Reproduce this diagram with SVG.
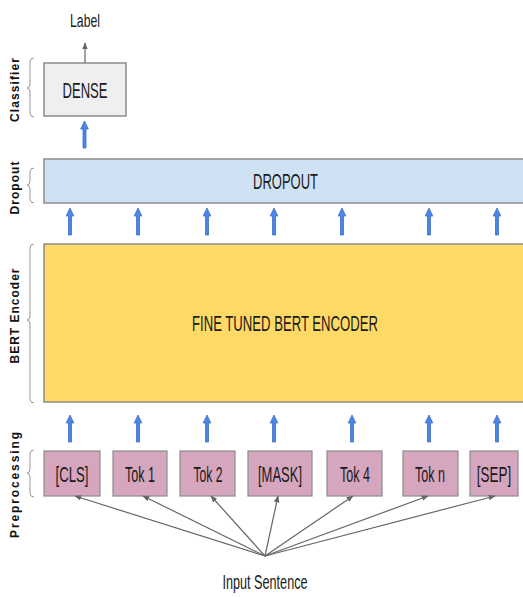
<svg xmlns="http://www.w3.org/2000/svg" width="523" height="597" viewBox="0 0 523 597">
<style>
.t{font-family:"Liberation Sans",Arial,sans-serif;font-size:22px;fill:#1a1a1a;text-anchor:middle}
.side{font-family:"Liberation Sans",Arial,sans-serif;font-size:12px;font-weight:bold;fill:#111;text-anchor:middle}
.box{stroke:#8c8c8c;stroke-width:1.5}
.tok{fill:#d5a6bd;stroke:#8c8c8c;stroke-width:1.2}
.brace{fill:none;stroke:#999;stroke-width:1}
.gl{stroke:#666;stroke-width:1.2;fill:none}
.ba{fill:#4a86e8;stroke:#3d6fc4;stroke-width:0.8}
</style>
<defs>
<marker id="ga" viewBox="0 0 10 10" refX="9" refY="5" markerWidth="7" markerHeight="7" orient="auto" markerUnits="userSpaceOnUse">
<path d="M0,1 L10,5 L0,9 z" fill="#666"/>
</marker>
<path id="bar" d="M-1.5,0 L-1.5,-19 L-3.8,-19 L0,-27 L3.8,-19 L1.5,-19 L1.5,0 z"/>
</defs>

<g id="side-labels">
<text class="side" transform="translate(19,90) rotate(-90)" textLength="64" lengthAdjust="spacing">Classifier</text>
<text class="side" transform="translate(19,188) rotate(-90)" textLength="53" lengthAdjust="spacing">Dropout</text>
<text class="side" transform="translate(19,316) rotate(-90)" textLength="95" lengthAdjust="spacing">BERT Encoder</text>
<text class="side" transform="translate(19,485) rotate(-90)" textLength="106" lengthAdjust="spacing">Preprocessing</text>
</g>

<g id="braces">
<path class="brace" d="M34,58 Q30,58 30,62 L30,84 Q30,88 27,88 Q30,88 30,92 L30,113 Q30,117 34,117"/>
<path class="brace" d="M34,168 Q30,168 30,172 L30,181 Q30,185 27,185 Q30,185 30,189 L30,199 Q30,203 34,203"/>
<path class="brace" d="M34,244 Q30,244 30,248 L30,316 Q30,320 27,320 Q30,320 30,324 L30,399 Q30,403 34,403"/>
<path class="brace" d="M34,450 Q30,450 30,454 L30,469 Q30,473 27,473 Q30,473 30,477 L30,493 Q30,497 34,497"/>
</g>

<g id="label">
<text class="t" x="85" y="27" style="font-size:18px" textLength="30" lengthAdjust="spacingAndGlyphs">Label</text>
</g>

<g id="dense">
<rect class="box" x="44" y="63" width="82" height="53" fill="#efefef"/>
<text class="t" x="85" y="98" textLength="45" lengthAdjust="spacingAndGlyphs">DENSE</text>
</g>

<g id="dropout">
<rect class="box" x="44" y="159" width="482" height="44" fill="#cfe2f3" stroke-width="2"/>
<text class="t" x="285.5" y="189" textLength="65" lengthAdjust="spacingAndGlyphs">DROPOUT</text>
</g>

<g id="bert">
<rect class="box" x="44" y="244" width="482" height="158" fill="#ffd966"/>
<text class="t" x="285" y="331" textLength="186" lengthAdjust="spacingAndGlyphs">FINE TUNED BERT ENCODER</text>
</g>

<g id="tok-cls">
<rect class="tok" x="44" y="451" width="56" height="45"/>
<text class="t" x="72" y="482" textLength="33" lengthAdjust="spacingAndGlyphs">[CLS]</text>
</g>
<g id="tok-1">
<rect class="tok" x="113" y="451" width="54" height="45"/>
<text class="t" x="140" y="482" textLength="30" lengthAdjust="spacingAndGlyphs">Tok 1</text>
</g>
<g id="tok-2">
<rect class="tok" x="180" y="451" width="55" height="45"/>
<text class="t" x="208" y="482" textLength="29" lengthAdjust="spacingAndGlyphs">Tok 2</text>
</g>
<g id="tok-mask">
<rect class="tok" x="248" y="451" width="64" height="45"/>
<text class="t" x="280" y="482" textLength="44" lengthAdjust="spacingAndGlyphs">[MASK]</text>
</g>
<g id="tok-4">
<rect class="tok" x="327" y="451" width="55" height="45"/>
<text class="t" x="355" y="482" textLength="30" lengthAdjust="spacingAndGlyphs">Tok 4</text>
</g>
<g id="tok-n">
<rect class="tok" x="403" y="451" width="55" height="45"/>
<text class="t" x="430" y="482" textLength="30" lengthAdjust="spacingAndGlyphs">Tok n</text>
</g>
<g id="tok-sep">
<rect class="tok" x="470" y="451" width="48" height="45"/>
<text class="t" transform="translate(494,482) scale(0.61,1)" x="0" y="0">[SEP]</text>
</g>

<g id="input">
<text class="t" x="265" y="589" style="font-size:21px" textLength="85" lengthAdjust="spacingAndGlyphs">Input Sentence</text>
</g>

<g id="connectors">
<line class="gl" x1="85" y1="63" x2="85" y2="43" marker-end="url(#ga)"/>
<g class="ba">
<use href="#bar" x="84.5" y="148"/>
<use href="#bar" x="70" y="235"/>
<use href="#bar" x="138" y="235"/>
<use href="#bar" x="207" y="235"/>
<use href="#bar" x="274" y="235"/>
<use href="#bar" x="342" y="235"/>
<use href="#bar" x="429" y="235"/>
<use href="#bar" x="497" y="235"/>
<use href="#bar" x="70" y="442"/>
<use href="#bar" x="138" y="442"/>
<use href="#bar" x="207" y="442"/>
<use href="#bar" x="274" y="442"/>
<use href="#bar" x="352" y="442"/>
<use href="#bar" x="429" y="442"/>
<use href="#bar" x="497" y="442"/>
</g>
<line class="gl" x1="265" y1="556" x2="75" y2="496" marker-end="url(#ga)"/>
<line class="gl" x1="265" y1="556" x2="143" y2="496" marker-end="url(#ga)"/>
<line class="gl" x1="265" y1="556" x2="211" y2="496" marker-end="url(#ga)"/>
<line class="gl" x1="265" y1="556" x2="278" y2="496" marker-end="url(#ga)"/>
<line class="gl" x1="265" y1="556" x2="353" y2="496" marker-end="url(#ga)"/>
<line class="gl" x1="265" y1="556" x2="428" y2="496" marker-end="url(#ga)"/>
<line class="gl" x1="265" y1="556" x2="495" y2="496" marker-end="url(#ga)"/>
</g>
</svg>
